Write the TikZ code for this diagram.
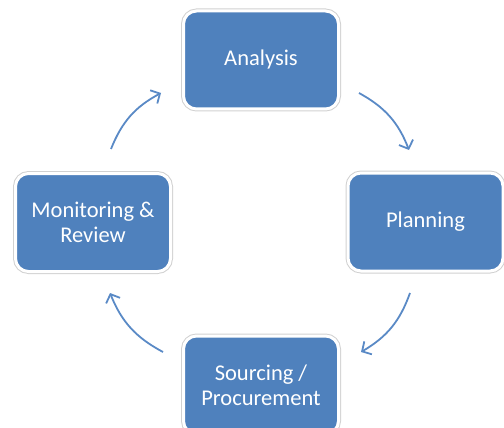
\documentclass[tikz,border=0pt]{standalone}
\usepackage{fontspec}
\setmainfont{Carlito}
\usetikzlibrary{arrows.meta}
\definecolor{boxblue}{HTML}{4F81BD}
\definecolor{arrblue}{HTML}{5A8AC6}
\begin{document}
\begin{tikzpicture}[x=1pt,y=-1pt,
  stagebox/.style={rounded corners=13pt, fill=boxblue, draw=white, line width=3pt,
    preaction={draw=black!18, line width=5pt},
    minimum width=155pt, minimum height=98pt, inner sep=0pt,
    text=white, align=center, font=\fontsize{22.5}{25}\selectfont},
  cyclearrow/.style={draw=arrblue, line width=1.8pt,
    -{Straight Barb[length=7pt,width=15pt,line width=1.8pt]}, bend left=20}
  ]
\useasboundingbox (0,0) rectangle (504,428);
\node[stagebox] (ana) at (261,60) {Analysis};
\node[stagebox] (pla) at (425.5,222) {Planning};
\node[stagebox] (sou) at (261,385) {Sourcing /\\Procurement};
\node[stagebox] (mon) at (93,222.5) {Monitoring \&\\Review};
\coordinate (a1s) at (359,93);
\coordinate (a1e) at (409,150);
\coordinate (a2s) at (410,293);
\coordinate (a2e) at (361,352);
\coordinate (a3s) at (163,352);
\coordinate (a3e) at (110,293);
\coordinate (a4s) at (111,149);
\coordinate (a4e) at (161,93);
\draw[cyclearrow] (a1s) to (a1e);
\draw[cyclearrow] (a2s) to (a2e);
\draw[cyclearrow] (a3s) to (a3e);
\draw[cyclearrow] (a4s) to (a4e);
\end{tikzpicture}
\end{document}
